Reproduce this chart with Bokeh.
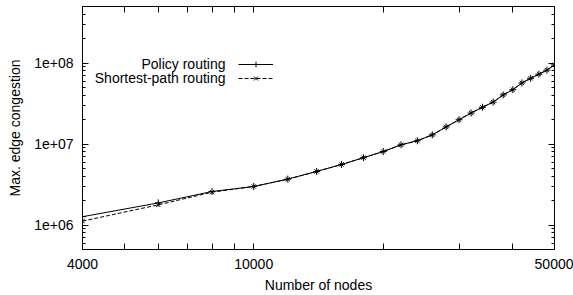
from bokeh.plotting import figure
from bokeh.models import (LogAxis, FixedTicker, Range1d, Legend, LegendItem, Label,
                          ColumnDataSource)
from bokeh.embed import file_html
from bokeh.resources import INLINE

# ---- data ----
nodes = [4000, 6000, 8000, 10000, 12000, 14000, 16000, 18000, 20000, 22000, 24000,
         26000, 28000, 30000, 32000, 34000, 36000, 38000, 40000, 42000, 44000,
         46000, 48000, 50000]
policy = [1.27e6, 1.88e6, 2.6e6, 3.0e6, 3.7e6, 4.6e6, 5.6e6, 6.8e6, 8.1e6, 9.8e6,
          1.1e7, 1.3e7, 1.63e7, 2.0e7, 2.42e7, 2.85e7, 3.3e7, 4.05e7, 4.7e7,
          5.7e7, 6.5e7, 7.3e7, 8.2e7, 9.5e7]
shortest = [1.12e6, 1.78e6, 2.55e6, 3.0e6, 3.68e6, 4.6e6, 5.6e6, 6.8e6, 8.1e6, 9.8e6,
            1.1e7, 1.3e7, 1.63e7, 2.0e7, 2.42e7, 2.85e7, 3.3e7, 4.05e7, 4.7e7,
            5.7e7, 6.5e7, 7.3e7, 8.2e7, 9.5e7]
series_names = ["Policy routing", "Shortest-path routing"]

x_major = [4000, 10000, 50000]
x_minor = [5000, 6000, 7000, 8000, 9000, 20000, 30000, 40000]
x_labels = {4000: "4000", 10000: "10000", 50000: "50000"}
y_major = [1e6, 1e7, 1e8]
y_minor = [6e5, 7e5, 8e5, 9e5,
           2e6, 3e6, 4e6, 5e6, 6e6, 7e6, 8e6, 9e6,
           2e7, 3e7, 4e7, 5e7, 6e7, 7e7, 8e7, 9e7,
           2e8, 3e8, 4e8]
y_labels = {1e6: "1e+06", 1e7: "1e+07", 1e8: "1e+08"}

FONT = "Liberation Sans"
FS = "14px"

p = figure(width=573, height=295, x_axis_type="log", y_axis_type="log",
           x_range=Range1d(4000, 50000), y_range=Range1d(5e5, 5e8),
           output_backend="svg", toolbar_location=None,
           min_border_left=82, min_border_right=19, min_border_top=6,
           min_border_bottom=46)
p.background_fill_color = "white"
p.border_fill_color = "white"
p.outline_line_color = "black"
p.outline_line_width = 1
p.xgrid.visible = False
p.ygrid.visible = False

src = ColumnDataSource(dict(x=nodes, p=policy, s=shortest))
l1 = p.line("x", "p", source=src, line_color="black", line_width=1)
m1 = p.scatter("x", "p", source=src, marker="cross", size=7, line_color="black",
               line_width=1)
l2 = p.line("x", "s", source=src, line_color="black", line_width=1, line_dash="4 2")
m2 = p.scatter("x", "s", source=src, marker="x", size=6, line_color="black",
               line_width=1)

def style(ax, ticks, minor, tick_len, minor_len):
    ax.ticker = FixedTicker(ticks=ticks, minor_ticks=minor)
    ax.axis_line_color = None
    ax.major_tick_in = tick_len
    ax.major_tick_out = 0
    ax.minor_tick_in = minor_len
    ax.minor_tick_out = 0
    ax.major_tick_line_color = "black"
    ax.minor_tick_line_color = "black"

def labels(ax, overrides, title, standoff, title_standoff):
    ax.major_label_overrides = overrides
    ax.major_label_text_font = FONT
    ax.major_label_text_font_size = FS
    ax.major_label_text_color = "black"
    ax.major_label_standoff = standoff
    ax.axis_label = title
    ax.axis_label_text_font = FONT
    ax.axis_label_text_font_size = FS
    ax.axis_label_text_font_style = "normal"
    ax.axis_label_text_color = "black"
    ax.axis_label_standoff = title_standoff

xa = p.xaxis[0]
style(xa, x_major, x_minor, 6, 6)
labels(xa, x_labels, "Number of nodes", 9, 5)

ya = p.yaxis[0]
style(ya, y_major, y_minor, 6, 3)
labels(ya, y_labels, "Max. edge congestion", 9, 8)

# mirrored tick marks (no labels) on the top and right sides
top = LogAxis()
style(top, [], x_major + x_minor, 0, 6)
top.major_label_standoff = 0
p.add_layout(top, "above")
right_major = LogAxis()
style(right_major, [], y_major, 0, 6)
right_major.major_label_standoff = 0
p.add_layout(right_major, "right")
right_minor = LogAxis()
style(right_minor, [], y_minor, 0, 3)
right_minor.major_label_standoff = 0
p.add_layout(right_minor, "right")

# gnuplot-style key: text right-aligned, sample to the right of it
legend = Legend(items=[LegendItem(label=" ", renderers=[l1, m1]),
                       LegendItem(label=" ", renderers=[l2, m2])],
                location=(156, 164), glyph_width=35, glyph_height=14,
                label_width=1, label_standoff=0, label_height=14,
                label_text_font_size="1px",
                spacing=0, padding=0, margin=0,
                background_fill_alpha=0, border_line_alpha=0)
p.add_layout(legend)
for i, name in enumerate(series_names):
    p.add_layout(Label(x=143, y=186 - 14 * i, x_units="screen", y_units="screen",
                       text=name, text_align="right", text_baseline="middle",
                       text_font=FONT, text_font_size=FS, text_color="black"))

open("out.html", "w").write(file_html(p, INLINE))
